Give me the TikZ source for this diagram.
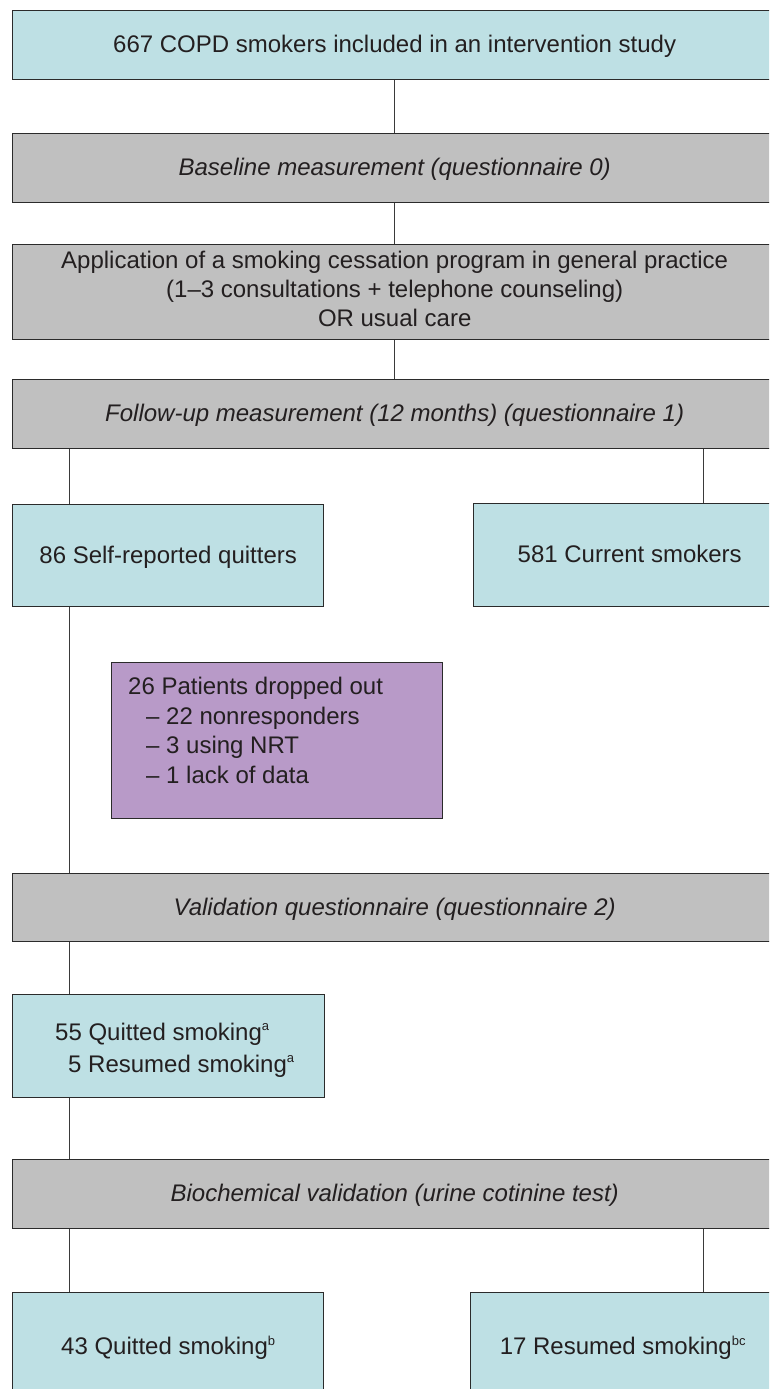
\documentclass[tikz,border=0pt]{standalone}
\usepackage{fontspec}
\setmainfont{Liberation Sans}
\definecolor{lblue}{HTML}{BEE0E4}
\definecolor{lgray}{HTML}{C0C0C0}
\definecolor{lpurple}{HTML}{B89AC8}
\definecolor{boxline}{HTML}{2B2B2B}
\definecolor{connline}{HTML}{3A3A3A}
\definecolor{txt}{HTML}{231F20}
\newcommand{\mysup}[1]{\raisebox{9.5pt}{\fontsize{13}{13}\selectfont #1}}
\begin{document}
\begin{tikzpicture}[x=1pt,y=-1pt,
  base/.style={rectangle, draw=boxline, line width=1.4pt, inner sep=0pt, anchor=north west,
    text=txt, font=\fontsize{24}{29}\selectfont, align=center},
  oneline/.style={base, text height=18pt, text depth=3pt},
  bluebox/.style={oneline, fill=lblue},
  graybox/.style={oneline, fill=lgray},
  freetext/.style={inner sep=0pt, anchor=north west, text=txt, align=left},
  conn/.style={draw=connline, line width=1pt}]
\useasboundingbox (0,0) rectangle (769,1389);
\clip (0,0) rectangle (769,1389);
\fill[white] (0,0) rectangle (769,1389);
\coordinate (L) at (69,0);
\coordinate (R) at (703,0);

\node[bluebox, minimum width=764pt, minimum height=69pt] (b1) at (12,10)
  {667 COPD smokers included in an intervention study};
\node[graybox, minimum width=764pt, minimum height=69pt] (b2) at (12,133)
  {\itshape Baseline measurement (questionnaire 0)};
\node[base, fill=lgray, minimum width=764pt, minimum height=95pt] (b3) at (12,244)
  {Application of a smoking cessation program in general practice\\
   (1–3 consultations + telephone counseling)\\
   OR usual care\rule[-6pt]{0pt}{6pt}};
\node[graybox, minimum width=764pt, minimum height=69pt] (b4) at (12,379)
  {\itshape Follow-up measurement (12 months) (questionnaire 1)};
\node[bluebox, minimum width=311pt, minimum height=102pt] (b5) at (12,504)
  {86 Self-reported quitters};
\node[bluebox, minimum width=312pt, minimum height=103pt] (b6) at (473,503)
  {581 Current smokers};
\node[base, fill=lpurple, minimum width=331pt, minimum height=156pt] (drop) at (111,662) {};
\node[freetext, font=\fontsize{24}{29.6}\selectfont] (dropt) at (128,676.8)
  {26 Patients dropped out\\
   \hspace*{18pt}– 22 nonresponders\\
   \hspace*{18pt}– 3 using NRT\\
   \hspace*{18pt}– 1 lack of data};
\node[graybox, minimum width=764pt, minimum height=68pt] (b7) at (12,873)
  {\itshape Validation questionnaire (questionnaire 2)};
\node[base, fill=lblue, minimum width=312pt, minimum height=103pt] (b8) at (12,994) {};
\node[freetext, font=\fontsize{24}{32}\selectfont] (b8t) at (55,1022.8)
  {55 Quitted smoking\mysup{a}\\
   \hspace*{13pt}5 Resumed smoking\mysup{a}};
\node[graybox, minimum width=764pt, minimum height=69pt] (b9) at (12,1159)
  {\itshape Biochemical validation (urine cotinine test)};
\node[bluebox, minimum width=311pt, minimum height=109pt] (b10) at (12,1292)
  {43 Quitted smoking\mysup{b}};
\node[bluebox, minimum width=304pt, minimum height=109pt] (b11) at (470,1292)
  {17 Resumed smoking\mysup{bc}};

\draw[conn] (b1.south) -- (b2.north);
\draw[conn] (b2.south) -- (b3.north);
\draw[conn] (b3.south) -- (b4.north);
\draw[conn] (b4.south -| L) -- (b5.north -| L);
\draw[conn] (b4.south -| R) -- (b6.north -| R);
\draw[conn] (b5.south -| L) -- (b7.north -| L);
\draw[conn] (b7.south -| L) -- (b8.north -| L);
\draw[conn] (b8.south -| L) -- (b9.north -| L);
\draw[conn] (b9.south -| L) -- (b10.north -| L);
\draw[conn] (b9.south -| R) -- (b11.north -| R);
\end{tikzpicture}
\end{document}
